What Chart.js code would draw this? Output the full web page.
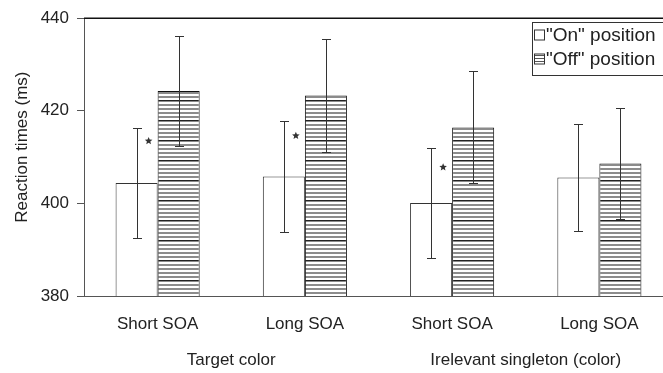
<!DOCTYPE html>
<html>
<head>
<meta charset="utf-8">
<script src="https://cdn.jsdelivr.net/npm/chart.js@4"></script>
<style>
  html, body { margin: 0; padding: 0; background: #fff; overflow: hidden; }
  #wrap { width: 663px; height: 373px; overflow: hidden; }
</style>
</head>
<body>
<div id="wrap"><canvas id="rtChart" width="673" height="373"></canvas></div>
<script>
const categories = ['Short SOA', 'Long SOA', 'Short SOA', 'Long SOA'];
const groups = ['Target color', 'Irelevant singleton (color)'];
const onValues = [404.4, 405.8, 400.1, 405.6];
const offValues = [424.3, 423.3, 416.4, 408.6];
const onErrors = [11.9, 12.0, 11.9, 11.6];
const offErrors = [11.9, 12.3, 12.1, 11.9];
const starValues = [413.5, 414.6, 407.8, null];
const yTicks = [380, 400, 420, 440];
const yTitle = 'Reaction times (ms)';

const FONT = 'Liberation Sans, Arial, Helvetica, sans-serif';

// horizontal stripes for the "Off" bars
function makeStripes() {
    const c = document.createElement('canvas');
    c.width = 8; c.height = 20;
    const g = c.getContext('2d');
    g.fillStyle = '#fff';
    g.fillRect(0, 0, 8, 20);
    for (let k = 0; k < 5; k++) {
        g.fillStyle = '#8c8c8c';
        g.fillRect(0, k * 4, 8, 2);
    }
    g.fillStyle = '#222';
    g.fillRect(0, 0, 8, 1);
    return g.createPattern(c, 'repeat');
}
const ctx = document.getElementById('rtChart').getContext('2d');
const stripes = makeStripes();

function star(c, x, y, r) {
    c.beginPath();
    for (let k = 0; k < 10; k++) {
        const a = -Math.PI / 2 + k * Math.PI / 5;
        const rr = k % 2 ? r * 0.45 : r;
        c.lineTo(x + rr * Math.cos(a), y + rr * Math.sin(a));
    }
    c.closePath();
    c.fill();
}

const extras = {
    id: 'extras',
    afterDatasetsDraw(chart) {
        const c = chart.ctx;
        const y = chart.scales.y;
        const area = chart.chartArea;
        const errs = [onErrors, offErrors];
        const vals = [onValues, offValues];
        c.save();
        c.strokeStyle = '#333';
        c.lineWidth = 1;
        for (let d = 0; d < 2; d++) {
            chart.getDatasetMeta(d).data.forEach((bar, i) => {
                const x = Math.round(bar.x) + 0.5;
                const top = Math.round(y.getPixelForValue(vals[d][i] + errs[d][i])) + 0.5;
                const bot = Math.round(y.getPixelForValue(vals[d][i] - errs[d][i])) + 0.5;
                c.beginPath();
                c.moveTo(x, top); c.lineTo(x, bot);
                c.moveTo(x - 4.5, top); c.lineTo(x + 4.5, top);
                c.moveTo(x - 4.5, bot); c.lineTo(x + 4.5, bot);
                c.stroke();
            });
        }
        // asterisks
        c.fillStyle = '#333';
        chart.getDatasetMeta(0).data.forEach((bar, i) => {
            if (starValues[i] == null) return;
            star(c, bar.x + bar.width / 2 - 9, y.getPixelForValue(starValues[i]), 4);
        });
        // top frame line
        c.strokeStyle = '#111';
        c.lineWidth = 1.5;
        c.beginPath();
        c.moveTo(area.left, area.top);
        c.lineTo(chart.width, area.top);
        c.stroke();
        c.restore();
    },
    afterDraw(chart) {
        const c = chart.ctx;
        const xs = chart.scales.x;
        const area = chart.chartArea;
        c.save();
        c.fillStyle = '#222';
        c.font = '17px ' + FONT;
        c.textAlign = 'center';
        c.textBaseline = 'middle';
        // y title
        c.save();
        c.translate(22, (area.top + area.bottom) / 2 - 10);
        c.rotate(-Math.PI / 2);
        c.fillText(yTitle, 0, 0);
        c.restore();
        // group labels
        groups.forEach((g, k) => {
            const mid = (xs.getPixelForValue(k * 2) + xs.getPixelForValue(k * 2 + 1)) / 2;
            c.fillText(g, mid, 360);
        });
        // legend
        const lx = 532.5, ly = 22.5;
        c.strokeStyle = '#333';
        c.lineWidth = 1;
        c.fillStyle = '#fff';
        c.fillRect(lx, ly, 150, 53);
        c.strokeRect(lx, ly, 150, 53);
        const ds = chart.data.datasets;
        c.font = '19px ' + FONT;
        c.textAlign = 'left';
        ds.forEach((d, i) => {
            const cy = 35 + i * 24;
            c.fillStyle = i ? '#fff' : d.backgroundColor;
            c.fillRect(534.5, cy - 5, 10, 10);
            if (i) {
                c.fillStyle = '#555';
                for (let k = 1; k < 10; k += 3) c.fillRect(534.5, cy - 5 + k, 10, 1);
            }
            c.strokeStyle = '#333';
            c.strokeRect(534.5, cy - 5, 10, 10);
            c.fillStyle = '#222';
            c.fillText(d.label, 546, cy + 1);
        });
        c.restore();
    }
};

new Chart(ctx, {
    type: 'bar',
    data: {
        labels: categories,
        datasets: [{
            label: '"On" position',
            data: onValues,
            backgroundColor: '#fff',
            borderColor: '#333',
            borderWidth: 1
        }, {
            label: '"Off" position',
            data: offValues,
            backgroundColor: stripes,
            borderColor: '#111',
            borderWidth: 1
        }]
    },
    options: {
        responsive: false,
        animation: false,
        layout: { padding: { top: 17, left: 0, right: 0, bottom: 0 } },
        categoryPercentage: 0.571,
        barPercentage: 1,
        plugins: {
            legend: { display: false },
            tooltip: { enabled: false }
        },
        scales: {
            x: {
                offset: true,
                grid: { display: true, drawOnChartArea: false, drawTicks: false },
                border: { display: true, color: '#555', width: 1 },
                ticks: { color: '#222', font: { size: 17, family: FONT }, padding: 18, maxRotation: 0 },
                afterFit(s) { s.height = 77; }
            },
            y: {
                min: 380,
                max: 440,
                grid: { display: true, drawOnChartArea: false, tickLength: 7, color: '#555' },
                border: { display: true, color: '#555', width: 1 },
                afterBuildTicks(s) { s.ticks = yTicks.map(v => ({ value: v })); },
                ticks: { color: '#222', font: { size: 17, family: FONT }, padding: 8 },
                afterFit(s) { s.width = 84; }
            }
        }
    },
    plugins: [extras]
});
</script>
</body>
</html>
